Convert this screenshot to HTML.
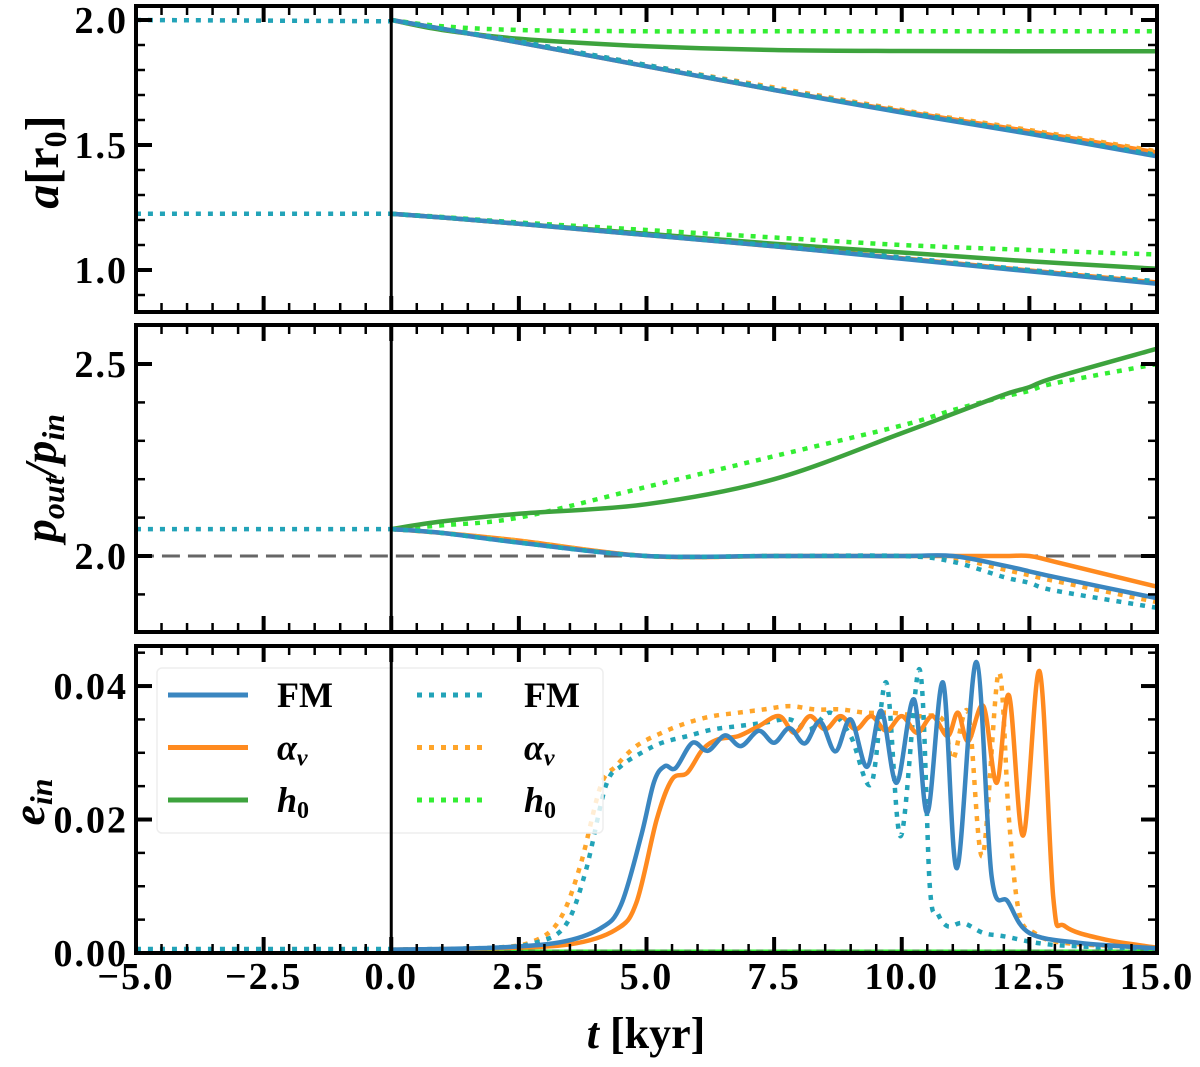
<!DOCTYPE html>
<html><head><meta charset="utf-8"><style>
body{margin:0;background:#fff}
svg text{font-family:"Liberation Serif",serif;font-weight:bold;fill:#000}
</style></head><body>
<svg id="chart" width="1200" height="1062" viewBox="0 0 1200 1062" xmlns="http://www.w3.org/2000/svg"></svg>
<script>
// ---- data ----
const xTicks=[-5,-2.5,0,2.5,5,7.5,10,12.5,15];
const xTickLabels=["\u22125.0","\u22122.5","0.0","2.5","5.0","7.5","10.0","12.5","15.0"];
const aTicks=[1.0,1.5,2.0];
const aTickLabels=["1.0","1.5","2.0"];
const pTicks=[2.0,2.5];
const pTickLabels=["2.0","2.5"];
const eTicks=[0,0.02,0.04];
const eTickLabels=["0.00","0.02","0.04"];
// panel a: outer and inner semi-major axes
const aT=[0,1,2.5,5,7.5,10,12.5,15];
const aOutFM=[2.0,1.965,1.91,1.815,1.72,1.63,1.545,1.455];
const aOutAl=[2.0,1.965,1.91,1.815,1.72,1.635,1.555,1.47];
const aOutH=[2.0,1.96,1.925,1.895,1.88,1.876,1.875,1.875];
const aOutFMd=[2.0,1.965,1.915,1.82,1.725,1.635,1.55,1.46];
const aOutAld=[2.0,1.965,1.915,1.82,1.73,1.64,1.56,1.475];
const aOutHd=[2.0,1.975,1.96,1.955,1.955,1.955,1.955,1.955];
const aInFM=[1.225,1.21,1.185,1.14,1.095,1.045,0.995,0.945];
const aInAl=[1.225,1.21,1.185,1.14,1.095,1.047,0.998,0.95];
const aInH=[1.225,1.21,1.185,1.145,1.105,1.07,1.035,1.005];
const aInHd=[1.225,1.212,1.19,1.16,1.13,1.1,1.08,1.062];
const aInFMd=[1.225,1.21,1.187,1.142,1.098,1.05,1.0,0.955];
const aPreT=[-5,0];
const aPreOut=[2.0,1.995];
const aPreIn=[1.225,1.225];
// panel p: period ratio
const pT=[0,1,2.5,5,7.5,10,11,12,12.5,13,15];
const pH=[2.07,2.09,2.11,2.135,2.2,2.32,2.37,2.42,2.44,2.465,2.54];
const pHd=[2.07,2.08,2.1,2.18,2.26,2.34,2.38,2.415,2.43,2.45,2.5];
const pFM=[2.07,2.06,2.035,2.0,2.0,2.0,2.0,1.975,1.96,1.945,1.89];
const pAl=[2.07,2.06,2.04,2.0,2.0,2.0,2.0,2.0,2.0,1.985,1.92];
const pFMd=[2.07,2.06,2.035,2.0,2.0,2.0,1.985,1.945,1.93,1.91,1.865];
const pAld=[2.07,2.06,2.04,2.0,2.0,2.0,1.995,1.965,1.95,1.935,1.88];
const pPreT=[-5,0];
const pPre=[2.07,2.07];
const pRef=[2.0,2.0];
// panel e: inner eccentricity
const eFMt=[0,2,3.3,4.1,4.5,4.9,5.15,5.36,5.57,5.9,6.2,6.54,6.85,7.2,7.5,7.8,8.1,8.4,8.7,9.0,9.32,9.6,9.9,10.24,10.5,10.81,11.08,11.46,11.76,12.08,12.5,13.5,15];
const eFM=[0.0005,0.0008,0.0016,0.0037,0.0072,0.0177,0.0257,0.028,0.0277,0.0315,0.0303,0.0326,0.031,0.0333,0.0315,0.0337,0.0314,0.0347,0.0302,0.035,0.0279,0.0363,0.0255,0.038,0.021,0.0405,0.0127,0.0436,0.0115,0.0077,0.003,0.0015,0.0007];
const eAlt=[0,2,3.5,4.4,4.8,5.2,5.5,5.8,6.1,6.4,6.8,7.2,7.6,7.9,8.2,8.5,8.8,9.1,9.4,9.7,10.0,10.3,10.6,10.9,11.1,11.3,11.6,11.86,12.1,12.38,12.7,12.97,13.2,14,15];
const eAl=[0.0005,0.0007,0.0013,0.0035,0.0075,0.02,0.026,0.027,0.0305,0.032,0.0325,0.034,0.0355,0.033,0.0355,0.0335,0.0355,0.0335,0.0355,0.0333,0.0355,0.033,0.0355,0.0325,0.036,0.0317,0.037,0.0255,0.0386,0.0176,0.0422,0.0081,0.004,0.002,0.0008];
const eFMdt=[0,2,2.8,3.4,3.8,4.2,4.5,4.9,5.3,5.8,6.3,6.8,7.3,7.8,8.2,8.6,9.0,9.4,9.7,9.98,10.35,10.55,10.7,10.9,11.2,11.6,12.0,13,15];
const eFMd=[0.0005,0.0008,0.0015,0.004,0.012,0.025,0.028,0.03,0.0315,0.0325,0.0335,0.034,0.0345,0.035,0.0335,0.036,0.0325,0.0253,0.0405,0.0175,0.0425,0.01,0.006,0.004,0.0045,0.003,0.0025,0.0012,0.0006];
const eAldt=[0,2,2.8,3.3,3.7,4.1,4.4,4.8,5.3,5.8,6.3,6.8,7.3,7.8,8.3,8.8,9.3,9.8,10.3,10.8,11.0,11.3,11.58,11.9,12.1,12.3,12.6,13.2,15];
const eAld=[0.0005,0.0008,0.0018,0.005,0.013,0.025,0.028,0.031,0.033,0.0345,0.0355,0.036,0.0365,0.037,0.0365,0.0365,0.036,0.036,0.0355,0.035,0.029,0.036,0.0145,0.042,0.02,0.006,0.003,0.0015,0.0008];
const eHt=[0,15];
const eH=[0.0002,0.0002];
const ePreT=[-5,0];
const ePre=[0.0006,0.0006];

// ---- layout ----
const X0=136,X1=1157;
const panels=[
 {name:"a-panel",top:6,bot:312,ymin:0.832,ymax:2.056,minor:0.1},
 {name:"period-ratio-panel",top:325,bot:632,ymin:1.8021,ymax:2.6016,minor:0.1},
 {name:"eccentricity-panel",top:646,bot:953,ymin:0,ymax:0.046,minor:0.005}
];
const svg=document.getElementById('chart');
const NS="http://www.w3.org/2000/svg";
function mk(tag,attrs,parent){const e=document.createElementNS(NS,tag);for(const k in attrs)e.setAttribute(k,attrs[k]);(parent||svg).appendChild(e);return e;}
const xs=t=>X0+(t+5)/20*(X1-X0);
function ysFor(p){return v=>p.bot-(v-p.ymin)/(p.ymax-p.ymin)*(p.bot-p.top);}
function pathD(T,V,ys){
 const P=T.map((t,i)=>[xs(t),ys(V[i])]);
 let d="M"+P[0][0].toFixed(1)+","+P[0][1].toFixed(1);
 for(let i=0;i<P.length-1;i++){
  const p0=P[Math.max(i-1,0)],p1=P[i],p2=P[i+1],p3=P[Math.min(i+2,P.length-1)];
  const c1=[p1[0]+(p2[0]-p0[0])/6,p1[1]+(p2[1]-p0[1])/6];
  const c2=[p2[0]-(p3[0]-p1[0])/6,p2[1]-(p3[1]-p1[1])/6];
  d+=` C${c1[0].toFixed(1)},${c1[1].toFixed(1)} ${c2[0].toFixed(1)},${c2[1].toFixed(1)} ${p2[0].toFixed(1)},${p2[1].toFixed(1)}`;
 }
 return d;
}
const C={fm:"#3a86c0",al:"#ff8a1f",h:"#3da33d",fmd:"#22a3b8",ald:"#ffa52a",hd:"#33ee33"};
function line(g,name,T,V,ys,color,dotted,w){
 const e=mk('path',{d:pathD(T,V,ys),fill:"none",stroke:color,"stroke-width":w||4.5,"stroke-linejoin":"round"},g);
 if(dotted)e.setAttribute('stroke-dasharray','5,7');
 
 
 return e;
}
function axes(p,g,yT,yL){
 const ys=ysFor(p);
 const v=mk('line',{x1:xs(0),x2:xs(0),y1:p.top,y2:p.bot,stroke:"#000","stroke-width":3},g);
 
 for(let t=-5;t<=15.001;t+=0.5){
  const maj=Math.abs(t/2.5-Math.round(t/2.5))<1e-6;const L=maj?16:9;const x=xs(t);
  mk('line',{x1:x,x2:x,y1:p.bot,y2:p.bot-L,stroke:"#000","stroke-width":maj?4:2.5},g);
  mk('line',{x1:x,x2:x,y1:p.top,y2:p.top+L,stroke:"#000","stroke-width":maj?4:2.5},g);
 }
 const start=Math.ceil(p.ymin/p.minor-1e-6);
 for(let k=start;k*p.minor<=p.ymax+1e-9;k++){
  const val=k*p.minor;const maj=yT.some(m=>Math.abs(m-val)<1e-6);const L=maj?16:9;const y=ys(val);
  mk('line',{x1:X0,x2:X0+L,y1:y,y2:y,stroke:"#000","stroke-width":maj?4:2.5},g);
  mk('line',{x1:X1,x2:X1-L,y1:y,y2:y,stroke:"#000","stroke-width":maj?4:2.5},g);
 }
 yT.forEach((val,i)=>{const tx=mk('text',{x:X0-8,y:ys(val)+13,"text-anchor":"end","font-size":38,"letter-spacing":2},g);tx.textContent=yL[i];
  });
 const fr=mk('rect',{x:X0,y:p.top,width:X1-X0,height:p.bot-p.top,fill:"none",stroke:"#000","stroke-width":4},g);
 
 return ys;
}
// panel 1
let g=mk('g',{});
let ys=ysFor(panels[0]);
line(g,'pre-outer-dotted',aPreT,aPreOut,ys,C.fmd,true);
line(g,'pre-inner-dotted',aPreT,aPreIn,ys,C.fmd,true);
line(g,'outer-h0-dotted',aT,aOutHd,ys,C.hd,true);
line(g,'inner-h0-dotted',aT,aInHd,ys,C.hd,true);
line(g,'outer-h0',aT,aOutH,ys,C.h,false);
line(g,'inner-h0',aT,aInH,ys,C.h,false);
line(g,'outer-alpha',aT,aOutAl,ys,C.al,false);
line(g,'inner-alpha',aT,aInAl,ys,C.al,false);
line(g,'outer-alpha-dotted',aT,aOutAld,ys,C.ald,true);
line(g,'outer-fm',aT,aOutFM,ys,C.fm,false);
line(g,'inner-fm',aT,aInFM,ys,C.fm,false);
line(g,'outer-fm-dotted',aT,aOutFMd,ys,C.fmd,true);
line(g,'inner-fm-dotted',aT,aInFMd,ys,C.fmd,true);
axes(panels[0],g,aTicks,aTickLabels);
// panel 2
g=mk('g',{});
ys=ysFor(panels[1]);
let r=mk('path',{d:pathD([-5,15],pRef,ys),stroke:"#666","stroke-width":3,"stroke-dasharray":"18,8",fill:"none"},g);

line(g,'pre-ratio-dotted',pPreT,pPre,ys,C.fmd,true);
line(g,'ratio-h0-dotted',pT,pHd,ys,C.hd,true);
line(g,'ratio-h0',pT,pH,ys,C.h,false);
line(g,'ratio-alpha',pT,pAl,ys,C.al,false);
line(g,'ratio-alpha-dotted',pT,pAld,ys,C.ald,true);
line(g,'ratio-fm',pT,pFM,ys,C.fm,false);
line(g,'ratio-fm-dotted',pT,pFMd,ys,C.fmd,true);
axes(panels[1],g,pTicks,pTickLabels);
// panel 3
g=mk('g',{});
ys=ysFor(panels[2]);
line(g,'pre-ecc-dotted',ePreT,ePre,ys,C.fmd,true);
line(g,'ecc-h0',eHt,eH,ys,C.h,false);
line(g,'ecc-h0-dotted',eHt,eH,ys,C.hd,true);
line(g,'ecc-alpha-dotted',eAldt,eAld,ys,C.ald,true);
line(g,'ecc-fm-dotted',eFMdt,eFMd,ys,C.fmd,true);
line(g,'ecc-alpha',eAlt,eAl,ys,C.al,false);
line(g,'ecc-fm',eFMt,eFM,ys,C.fm,false);
// legend
const lg=mk('g',{},g);
mk('rect',{x:157,y:668,width:446,height:165,rx:5,fill:"#fff","fill-opacity":0.8,stroke:"#eee","stroke-width":1.5},lg);
const legNames=["FM","\u03b1","h"];const legSubs=["","\u03bd","0"];
const legCols=[[C.fm,C.al,C.h],[C.fmd,C.ald,C.hd]];
[0,1].forEach(c=>{[0,1,2].forEach(i=>{
 const y=695+i*52.5;const x1=c?417:168,x2=c?484:248,tx=c?524:277;
 const l=mk('line',{x1,x2,y1:y,y2:y,stroke:legCols[c][i],"stroke-width":5},lg);
 if(c)l.setAttribute('stroke-dasharray','5,7');
 
 const t=mk('text',{x:tx,y:y+12,"font-size":36,"font-style":i?"italic":"normal"},lg);
 t.textContent=legNames[i];
 if(legSubs[i]){const s=mk('tspan',{"font-size":24,dy:6,"font-style":i==2?"normal":"italic"},t);s.textContent=legSubs[i];}
 
});});
axes(panels[2],g,eTicks,eTickLabels);
// x tick labels
xTicks.forEach((t,i)=>{const tx=mk('text',{x:xs(t),y:989,"text-anchor":"middle","font-size":38,"letter-spacing":2});tx.textContent=xTickLabels[i];
 });
// axis titles
let tt=mk('text',{x:646,y:1048,"text-anchor":"middle","font-size":44});
tt.innerHTML='<tspan font-style="italic">t</tspan> [kyr]';

tt=mk('text',{transform:"translate(58,162) rotate(-90)","text-anchor":"middle","font-size":48});
tt.innerHTML='<tspan font-style="italic">a</tspan>[r<tspan font-size="32" dy="8">0</tspan><tspan dy="-8">]</tspan>';

tt=mk('text',{transform:"translate(56,478) rotate(-90)","text-anchor":"middle","font-size":46,"font-style":"italic"});
tt.innerHTML='p<tspan font-size="32" dy="8">out</tspan><tspan dy="-8">/p</tspan><tspan font-size="32" dy="8">in</tspan>';

tt=mk('text',{transform:"translate(44,802) rotate(-90)","text-anchor":"middle","font-size":46,"font-style":"italic"});
tt.innerHTML='e<tspan font-size="32" dy="8">in</tspan>';

</script>
</body></html>
